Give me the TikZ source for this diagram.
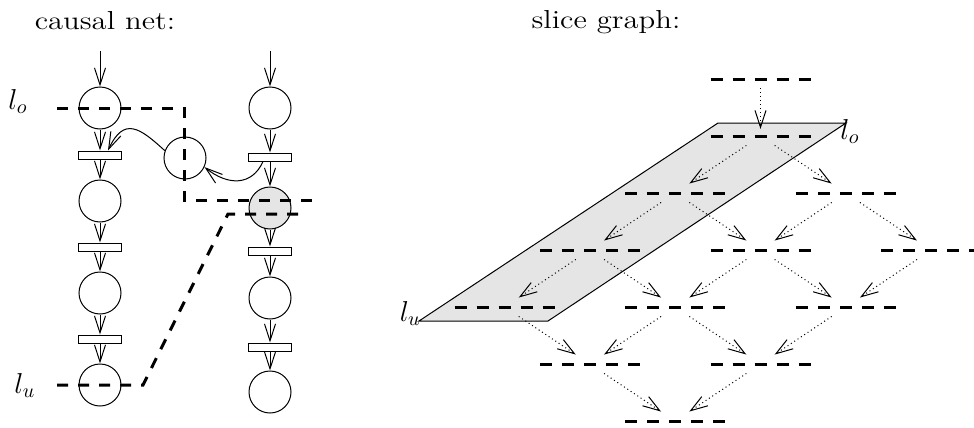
\documentclass[tikz,border=0pt]{standalone}
\usetikzlibrary{arrows.meta}
\begin{document}
\begin{tikzpicture}[x=0.5pt,y=-0.5pt,
  place/.style={circle,draw,line width=0.5pt,minimum size=21pt,inner sep=0pt},
  trans/.style={rectangle,draw,line width=0.5pt,minimum width=21.5pt,minimum height=4pt,inner sep=0pt},
  arr/.style={-{Straight Barb[length=8.5pt,width=5.5pt]},line width=0.5pt},
  cut/.style={line width=1.5pt,dash pattern=on 5.5pt off 5pt},
  slicebar/.style={line width=1.5pt,dash pattern=on 6pt off 5pt},
  darr/.style={arr,dash pattern=on 0.5pt off 1.5pt,shorten <=8.5pt,shorten >=8.5pt},
  lbl/.style={font=\fontsize{14}{16}\selectfont,inner sep=0pt},
  ttl/.style={font=\fontsize{13}{15}\selectfont,inner sep=0pt,anchor=base},
]
\useasboundingbox (0,0) rectangle (974,428);

% titles
\node[ttl] (t1) at (105,29) {\scalebox{1.18}[1]{causal net:}};
\node[ttl] (t2) at (606,28) {\scalebox{1.18}[1]{slice graph:}};

% ---------- causal net ----------
\node[place] (P1) at (100,108) {};
\node[trans] (T1) at (100,155) {};
\node[place] (P2) at (100,201) {};
\node[trans] (T2) at (100,247) {};
\node[place] (P3) at (100,293) {};
\node[trans] (T3) at (100,339) {};
\node[place] (P4) at (100,385) {};

\node[place] (Q1) at (270,108) {};
\node[trans] (U1) at (270,157) {};
\node[place,fill=black!10] (Q2) at (270,208) {};
\node[trans] (U2) at (270,251) {};
\node[place] (Q3) at (270,298) {};
\node[trans] (U3) at (270,347) {};
\node[place] (Q4) at (270,392) {};

\node[place] (M) at (185,158) {};

\coordinate (inP) at (100,51);
\coordinate (inQ) at (270,51);

\draw[arr] (inP) -- (P1);
\draw[arr] (P1) -- (T1);
\draw[arr] (T1) -- (P2);
\draw[arr] (P2) -- (T2);
\draw[arr] (T2) -- (P3);
\draw[arr] (P3) -- (T3);
\draw[arr] (T3) -- (P4);

\draw[arr] (inQ) -- (Q1);
\draw[arr] (Q1) -- (U1);
\draw[arr] (U1) -- (Q2);
\draw[arr] (Q2) -- (U2);
\draw[arr] (U2) -- (Q3);
\draw[arr] (Q3) -- (U3);
\draw[arr] (U3) -- (Q4);

\draw[arr] (M.160) .. controls (140,128) and (124,116) .. ([xshift=4pt]T1.north);
\draw[arr] ([xshift=-3.5pt]U1.south) .. controls (252,186) and (228,186) .. (M.-25);

% cuts
\draw[cut] (57,108) -- (184,108) -- (184,200) -- (313,200);
\draw[cut] (57,385) -- (143,385) -- (228,214) -- (303,214);

\node[lbl,anchor=north west] (lo) at (8,89) {$l_o$};
\node[lbl,anchor=north west] (lu) at (14,373) {$l_u$};

% ---------- slice graph ----------
\draw[line width=0.5pt,fill=black!10] (718,123) -- (846,123) -- (548,321) -- (419,321) -- cycle;

\coordinate (s0)  at (760.5,79);
\coordinate (s1)  at (760.5,136);
\coordinate (s2a) at (675.2,193);
\coordinate (s2b) at (845.8,193);
\coordinate (s3a) at (589.9,250);
\coordinate (s3b) at (760.5,250);
\coordinate (s3c) at (931.1,250);
\coordinate (s4a) at (504.6,307);
\coordinate (s4b) at (675.2,307);
\coordinate (s4c) at (845.8,307);
\coordinate (s5a) at (589.9,364);
\coordinate (s5b) at (760.5,364);
\coordinate (s6)  at (675.2,421);

\foreach \s in {s0,s1,s2a,s2b,s3a,s3b,s3c,s4a,s4b,s4c,s5a,s5b,s6}
  \draw[slicebar] ([xshift=-25pt]\s) -- ([xshift=25pt]\s);

\draw[darr,shorten <=4.5pt,shorten >=3.5pt] (s0) -- (s1);
\draw[darr] (s1) -- (s2a);
\draw[darr] (s1) -- (s2b);
\draw[darr] (s2a) -- (s3a);
\draw[darr] (s2a) -- (s3b);
\draw[darr] (s2b) -- (s3b);
\draw[darr] (s2b) -- (s3c);
\draw[darr] (s3a) -- (s4a);
\draw[darr] (s3a) -- (s4b);
\draw[darr] (s3b) -- (s4b);
\draw[darr] (s3b) -- (s4c);
\draw[darr] (s3c) -- (s4c);
\draw[darr] (s4a) -- (s5a);
\draw[darr] (s4b) -- (s5a);
\draw[darr] (s4b) -- (s5b);
\draw[darr] (s4c) -- (s5b);
\draw[darr] (s5a) -- (s6);
\draw[darr] (s5b) -- (s6);

\node[lbl,anchor=north west] (lo2) at (840,119) {$l_o$};
\node[lbl,anchor=north east] (lu2) at (421,301) {$l_u$};
\end{tikzpicture}
\end{document}
